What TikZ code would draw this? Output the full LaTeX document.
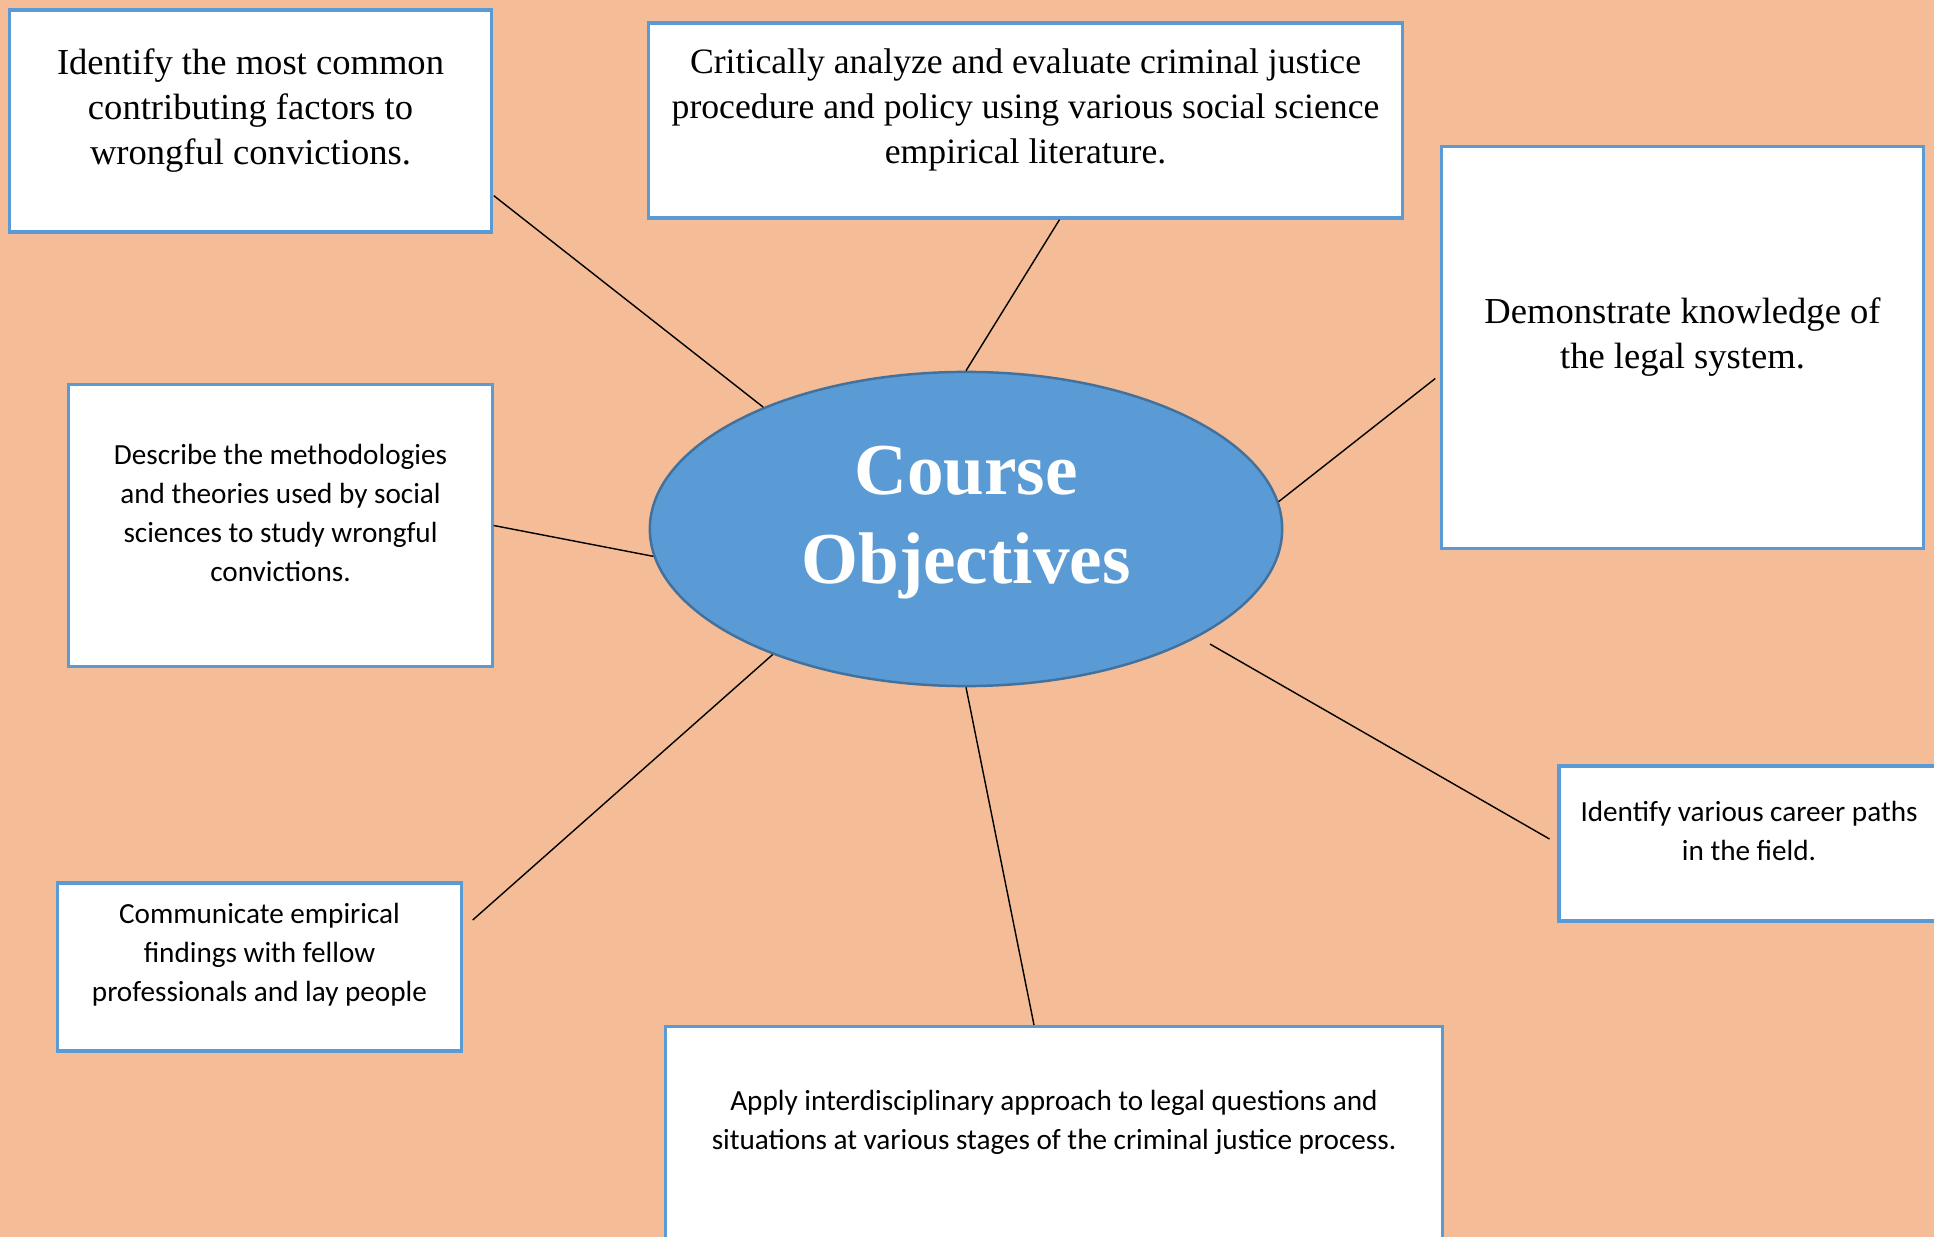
\documentclass[tikz,border=0pt]{standalone}
\usepackage{fontspec}
\setmainfont{Liberation Serif}
\newfontfamily\calibrisub{Carlito}
\usepackage{xcolor}
\usetikzlibrary{shapes.geometric, positioning, calc}

\definecolor{peach}{RGB}{244,188,151}
\definecolor{objblue}{RGB}{91,155,213}
\definecolor{objedge}{RGB}{65,113,156}

\begin{document}
\begin{tikzpicture}[
    x=0.01cm, y=-0.01cm,
    serifnote/.style={align=center, yshift=3pt, font=\fontsize{10.4}{12.8}\selectfont},
    sansnote/.style={align=center, yshift=3.5pt, font=\calibrisub\fontsize{8.3}{11.1}\selectfont},
    objbox/.style={rectangle, draw=objblue, line width=0.9pt, fill=white, inner sep=0pt},
    hub/.style={ellipse, draw=objedge, line width=0.7pt, fill=objblue, minimum width=6.32cm, minimum height=3.14cm, inner sep=0pt},
    hubtext/.style={align=center, yshift=1.7pt, text=white, font=\bfseries\fontsize{20.8}{25.3}\selectfont},
    link/.style={draw=black, line width=0.4pt}
]
\useasboundingbox (0,0) rectangle (1934,1237);
\clip (0,0) rectangle (1934,1237);
\fill[peach] (0,0) rectangle (1934,1237);

\node[hub, label={[hubtext]center:{Course\\Objectives}}] (co) at (966,529) {};

\node[objbox, minimum width=4.81cm, minimum height=2.22cm,
    label={[serifnote]center:{Identify the most common\\contributing factors to\\wrongful convictions.}}] (factors) at (250.5,121) {};
\node[objbox, minimum width=7.53cm, minimum height=1.95cm,
    label={[serifnote, font=\fontsize{10.15}{12.8}\selectfont]center:{Critically analyze and evaluate criminal justice\\procedure and policy using various social science\\empirical literature.}}] (analyze) at (1025.5,120.5) {};
\node[objbox, minimum width=4.81cm, minimum height=4.01cm,
    label={[serifnote]center:{Demonstrate knowledge of\\the legal system.}}] (legal) at (1682.5,347.5) {};
\node[objbox, minimum width=4.23cm, minimum height=2.81cm,
    label={[sansnote]center:{Describe the methodologies\\and theories used by social\\sciences to study wrongful\\convictions.}}] (methods) at (280.5,525.5) {};
\node[objbox, minimum width=3.80cm, minimum height=1.55cm,
    label={[sansnote]center:{Identify various career paths\\in the field.}}] (career) at (1749,843.5) {};
\node[objbox, minimum width=4.03cm, minimum height=1.68cm,
    label={[sansnote]center:{Communicate empirical\\findings with fellow\\professionals and lay people}}] (comm) at (259.5,967) {};
\node[objbox, anchor=north, minimum width=7.76cm, minimum height=3cm] (apply) at (1054,1025) {};
\node[sansnote] (apply-text) at (1054,1135) {Apply interdisciplinary approach to legal questions and\\situations at various stages of the criminal justice process.};

\draw[link] ($(factors.south east)+(1,-38)$) -- (co.149);
\draw[link] ($(analyze.south)+(34,0)$) -- (co.north);
\draw[link] ($(legal.west)+(-5,31)$) -- (co.5);
\draw[link] (methods.east) -- (co.185);
\draw[link, shorten <=0.14cm, shorten >=0.09cm] (co.-25) -- (career.west);
\draw[link] ($(comm.east)+(10,-47)$) -- (co.213);
\draw[link] (co.south) -- ($(apply.north)+(-20,0)$);
\end{tikzpicture}
\end{document}
